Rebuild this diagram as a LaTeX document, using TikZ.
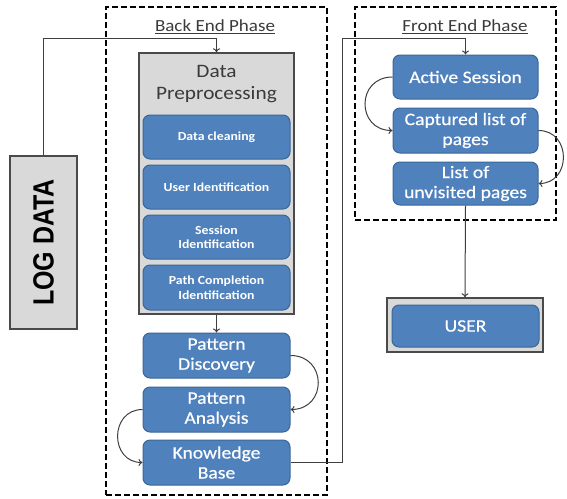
\documentclass[tikz,border=0pt]{standalone}
\usepackage{fontspec}
\setmainfont{Carlito}[FakeStretch=1.12]
\newfontfamily\heavyfont{Carlito}[FakeStretch=1.12, FakeBold=0.5]
\newfontfamily\logfont{Liberation Sans}
\usetikzlibrary{arrows.meta}

\definecolor{boxblue}{HTML}{4F81BD}
\definecolor{bluedge}{HTML}{3B6797}
\definecolor{panelgray}{HTML}{D9D9D9}
\definecolor{paneledge}{HTML}{4A4A4A}
\definecolor{linegray}{HTML}{3F3F3F}
\definecolor{labelgray}{HTML}{3A3A3A}

\tikzset{
  blk/.style={draw=bluedge, fill=boxblue, line width=1pt, rounded corners=7pt,
    text=white, align=center, inner sep=0pt,
    minimum width=147pt, minimum height=44pt},
  small/.style={font=\fontsize{12.3}{14.5}\selectfont\bfseries},
  big/.style={font=\heavyfont\fontsize{17.5}{20}\selectfont},
  panel/.style={draw=paneledge, fill=panelgray, line width=1.4pt, inner sep=0pt},
  phase/.style={draw=black, line width=2pt, dash pattern=on 6pt off 3pt, inner sep=0pt},
  lbl/.style={text=labelgray, font=\fontsize{17}{20}\selectfont, inner sep=0pt},
  arr/.style={draw=linegray, line width=1pt, -{To[length=4pt,width=7pt]}},
}

\begin{document}
\begin{tikzpicture}[x=1pt, y=-1pt]
\useasboundingbox (0,0) rectangle (567,498);

% phase frames
\node[phase, minimum width=221pt, minimum height=488pt] (back) at (216.5,251) {};
\node[phase, minimum width=201pt, minimum height=213pt] (front) at (455.5,113.5) {};
\node[lbl] (backlbl) at (215,27) {\underline{Back End Phase}};
\node[lbl] (frontlbl) at (465,27) {\underline{Front End Phase}};

% log data source
\node[panel, minimum width=67pt, minimum height=173pt] (log) at (43.5,242.5)
  {\rotatebox{90}{\scalebox{1}[1.17]{\logfont\fontsize{25}{28}\selectfont\bfseries LOG DATA}}};

% data preprocessing panel
\node[panel, minimum width=155pt, minimum height=261pt] (dp) at (216.5,183.5) {};
\node[align=center, text=labelgray, font=\fontsize{19}{22}\selectfont, inner sep=0pt]
  (dptitle) at (216.5,84) {Data\\Preprocessing};
\node[blk, small] (dc) at (216.5,137) {Data cleaning};
\node[blk, small] (ui) at (216.5,187) {User Identification};
\node[blk, small] (si) at (216.5,237) {Session\\Identification};
\node[blk, small, minimum height=45pt] (pc) at (216.5,287.5) {Path Completion\\Identification};

% mining stages
\node[blk, big, minimum height=45pt] (pd) at (216.5,355.5) {Pattern\\Discovery};
\node[blk, big, minimum height=45pt] (pa) at (216.5,409.5) {Pattern\\Analysis};
\node[blk, big, minimum height=45pt] (kb) at (216.5,462.5) {Knowledge\\Base};

% front end stages
\node[blk, big, minimum width=145pt] (as) at (465.5,77) {Active Session};
\node[blk, big, minimum width=145pt, minimum height=45pt] (clp) at (465.5,130.5) {Captured list of\\pages};
\node[blk, big, minimum width=145pt, minimum height=43pt] (lup) at (465.5,183.5) {List of\\unvisited pages};

% user
\node[panel, minimum width=156pt, minimum height=54pt] (userbox) at (465,325) {};
\node[blk, big, minimum width=147pt, minimum height=42pt] (user) at (465.5,326) {USER};

% connectors
\coordinate (logtop) at (43.5,38);
\coordinate (kbturn) at (342,38);
\draw[arr] (log.north) -- (logtop) -| (dp.north);
\draw[arr] (dp.south) -- (pd.north);
\draw[arr] (pd.east) to[out=0, in=0, looseness=1.75] (pa.east);
\draw[arr] (pa.west) to[out=180, in=180, looseness=1.6] (kb.west);
\draw[arr] (kb.east) -| (kbturn) -| (as.north);
\draw[arr] (as.west) to[out=180, in=180, looseness=1.75] (clp.west);
\draw[arr] (clp.east) to[out=0, in=0, looseness=1.6] (lup.east);
\draw[arr] (lup.south) -- (userbox.north);
\end{tikzpicture}
\end{document}
